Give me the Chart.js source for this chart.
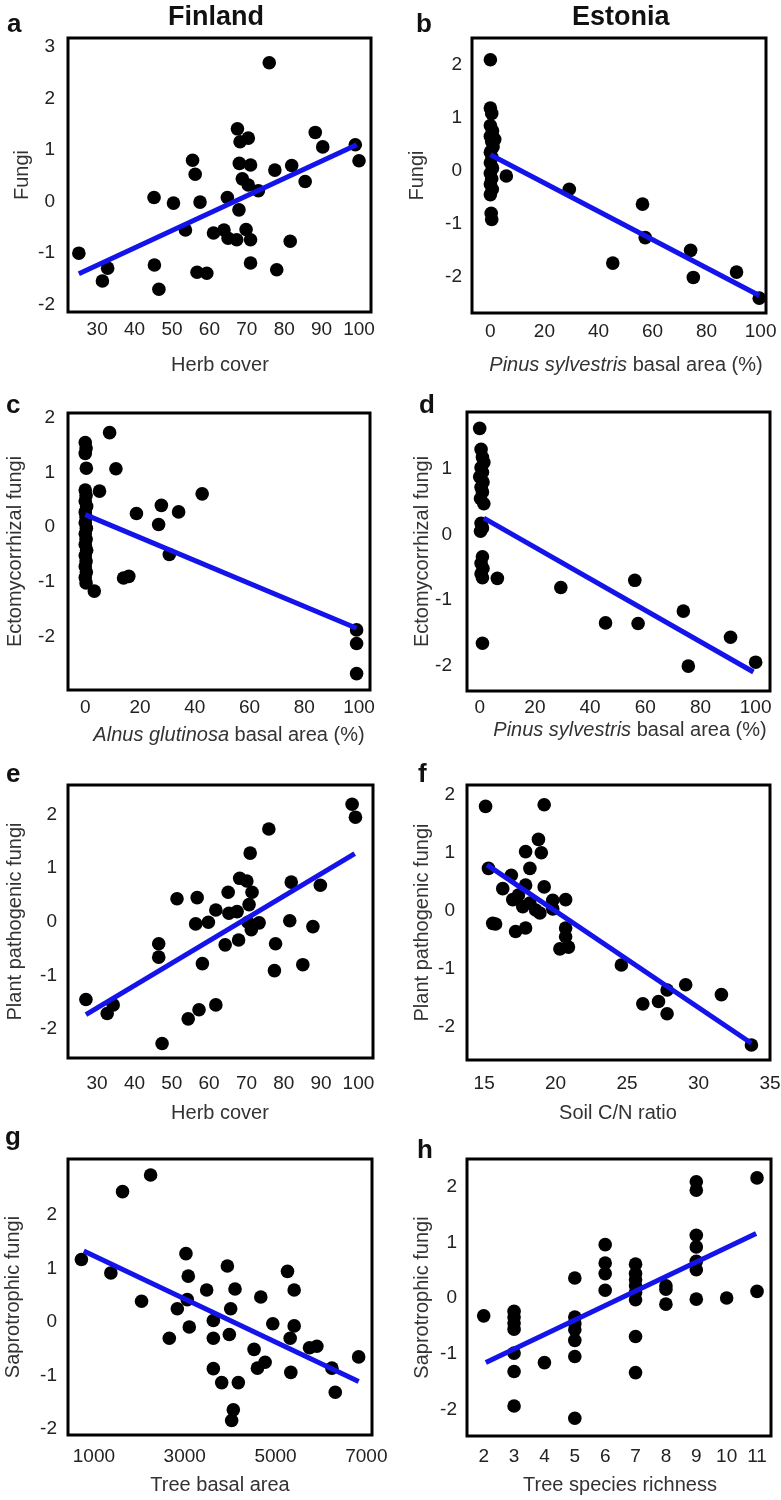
<!DOCTYPE html>
<html>
<head>
<meta charset="utf-8">
<script src="https://cdn.jsdelivr.net/npm/chart.js@4.4.0/dist/chart.umd.min.js"></script>
<style>
body{margin:0;background:#fff;}
#fig{position:relative;width:781px;height:1500px;overflow:hidden;font-family:"Liberation Sans",Arial,sans-serif;}
#fig canvas{position:absolute;}
.txt{position:absolute;font-weight:bold;color:#111;line-height:1;white-space:nowrap;}
</style>
</head>
<body>
<div id="fig"></div>
<script>
// a: Finland, fungi vs herb cover
const aHerbX=[25.1,31.4,32.8,45.2,45.3,46.5,50.4,53.6,55.5,56.2,57.5,56.7,59.3,61.1,63.9,64.8,65.0,67.3,67.9,67.5,68.2,70.4,68.0,71.0,68.8,70.4,73.1,69.8,71.0,71.0,76.0,77.5,78.0,82.0,81.6,85.6,88.3,90.3,99.0,100.0];
const aFungiY=[-1.0,-1.54,-1.29,0.08,-1.23,-1.70,-0.03,-0.55,0.80,0.53,-0.01,-1.37,-1.39,-0.61,-0.55,0.08,-0.71,-0.74,-0.16,1.41,1.16,1.23,0.74,0.71,0.44,0.32,0.21,-0.54,-0.74,-1.19,2.69,0.61,-1.32,0.70,-0.77,0.39,1.34,1.06,1.10,0.79];
const aFitX=[25.1,99.4], aFitY=[-1.40,1.10];
const aTicksX=[30,40,50,60,70,80,90,100], aTicksY=[-2,-1,0,1,2,3];

// b: Estonia, fungi vs pine basal area
const bPineX=[0,0,0.5,0,0.8,0,0.5,1,0,0.6,0,0.8,0,0.5,0,0.7,0,0.3,0.5,1.6,5.9,29.2,56.3,57.3,45.3,74.1,75.1,91.1,99.5];
const bFungiY=[2.09,1.18,1.08,0.85,0.75,0.65,0.55,0.45,0.35,0.25,0.15,0.05,-0.05,-0.15,-0.25,-0.35,-0.45,-0.80,-0.92,0.59,-0.10,-0.35,-0.63,-1.26,-1.74,-1.50,-2.01,-1.91,-2.40];
const bFitX=[0,99.5], bFitY=[0.30,-2.35];
const bTicksX=[0,20,40,60,80,100], bTicksY=[-2,-1,0,1,2];

// c: Finland, ectomycorrhizal fungi vs alder basal area
const cAlderX=[0,0.3,0,0.4,0,0.3,0,0.5,0,0.3,0,0.4,0,0.3,0,0.5,0,0.3,0,0.4,0,0.3,8.9,11.2,5.2,3.3,14.0,15.9,18.7,27.8,26.8,34.1,30.7,42.7,99.1,99.1,99.1];
const cEctoY=[1.55,1.45,1.35,1.08,0.68,0.58,0.48,0.38,0.28,0.18,0.08,-0.02,-0.12,-0.22,-0.32,-0.42,-0.52,-0.62,-0.72,-0.82,-0.92,-1.02,1.73,1.07,0.66,-1.17,-0.93,-0.90,0.25,0.40,0.05,0.28,-0.50,0.61,-1.88,-2.13,-2.68];
const cFitX=[0,99.1], cFitY=[0.23,-1.85];
const cTicksX=[0,20,40,60,80,100], cTicksY=[-2,-1,0,1,2];

// d: Estonia, ectomycorrhizal fungi vs pine basal area
const dPineX=[0,0.5,1,1.5,0.5,1,0,1.2,0.5,1,0.3,1.5,0.5,1,0.3,1,0.5,1.2,0.5,1,1,6.4,29.4,45.6,56.2,57.4,73.8,75.6,90.9,100];
const dEctoY=[1.62,1.30,1.18,1.10,1.02,0.95,0.88,0.80,0.72,0.65,0.55,0.47,0.17,0.10,0.05,-0.34,-0.44,-0.52,-0.60,-0.66,-1.66,-0.67,-0.81,-1.35,-0.70,-1.36,-1.17,-2.01,-1.57,-1.95];
const dFitX=[1.5,99.2], dFitY=[0.25,-2.10];
const dTicksX=[0,20,40,60,80,100], dTicksY=[-2,-1,0,1];

// e: Finland, plant pathogenic fungi vs herb cover
const eHerbX=[27.0,32.7,34.3,46.5,46.5,47.4,51.4,54.4,57.3,56.8,56.4,58.2,59.8,61.8,61.8,64.3,65.1,65.3,67.5,67.9,68.2,70.1,71.0,71.5,70.7,70.4,71.3,73.4,76.0,77.8,77.5,81.6,82.0,85.1,87.8,89.8,98.3,99.2];
const ePathY=[-1.45,-1.71,-1.55,-0.41,-0.66,-2.27,0.43,-1.81,-1.64,0.45,-0.04,-0.78,-0.01,-1.55,0.22,-0.43,0.55,0.16,0.19,-0.34,0.81,0.76,1.28,0.55,0.32,-0.01,-0.15,-0.02,1.73,-0.41,-0.91,0.02,0.74,-0.80,-0.09,0.68,2.19,1.95];
const eFitX=[27.0,99.0], eFitY=[-1.73,1.27];
const eTicksX=[30,40,50,60,70,80,90,100], eTicksY=[-2,-1,0,1,2];

// f: Estonia, plant pathogenic fungi vs soil C/N
const fSoilX=[15.1,15.3,15.6,15.8,16.3,16.9,17.0,17.4,17.2,17.7,17.9,17.9,17.9,18.2,18.2,18.6,18.8,19.0,18.9,19.2,19.2,19.8,19.8,20.7,20.7,20.7,20.3,20.9,24.6,26.1,27.2,27.8,27.8,29.1,31.6,33.7];
const fPathY=[1.80,0.73,-0.22,-0.23,0.38,0.61,0.19,0.27,-0.36,0.07,1.02,0.44,-0.30,0.73,0.13,0.01,1.23,1.00,-0.04,1.83,0.41,0.18,0.03,0.19,-0.30,-0.45,-0.66,-0.63,-0.94,-1.61,-1.57,-1.37,-1.78,-1.28,-1.45,-2.32];
const fFitX=[15.2,33.7], fFitY=[0.79,-2.29];
const fTicksX=[15,20,25,30,35], fTicksY=[-2,-1,0,1,2];

// g: Finland, saprotrophic fungi vs tree basal area
const gBasalX=[724,1373,1630,2049,2248,2660,2836,3027,3078,3056,3100,3483,3630,3630,3630,3814,3939,4012,3982,4107,4070,4033,4180,4527,4601,4675,4770,4939,5263,5322,5336,5410,5410,5748,5910,6241,6315,6830];
const gSaproY=[1.17,0.92,2.44,0.39,2.75,-0.30,0.25,1.28,0.86,0.42,-0.09,0.60,0.03,-0.30,-0.87,-1.13,1.05,0.25,-0.23,0.62,-1.64,-1.84,-1.13,-0.51,-0.86,0.47,-0.75,-0.03,0.95,-0.30,-0.94,0.60,-0.07,-0.48,-0.45,-0.86,-1.31,-0.65];
const gFitX=[776,6830], gFitY=[1.33,-1.11];
const gTicksX=[1000,3000,5000,7000], gTicksY=[-2,-1,0,1,2];

// h: Estonia, saprotrophic fungi vs tree species richness
const hRichX=[2,3,3,3,3,3,3,3,4,5,5,5,5,5,5,5,6,6,6,6,7,7,7,7,7,7,7,7,8,8,8,9,9,9,9,9,9,9,10,11,11];
const hSaproY=[-0.32,-0.24,-0.34,-0.45,-0.56,-0.99,-1.32,-1.94,-1.16,0.36,-0.34,-0.46,-0.57,-0.76,-1.05,-2.16,0.96,0.63,0.44,0.14,0.61,0.44,0.33,0.22,0.10,-0.03,-0.69,-1.34,0.22,0.16,-0.11,2.09,1.94,1.13,0.92,0.66,0.51,-0.02,0.0,2.16,0.12];
const hFitX=[2.07,10.97], hFitY=[-1.16,1.16];
const hTicksX=[2,3,4,5,6,7,8,9,10,11], hTicksY=[-2,-1,0,1,2];

const FONT='"Liberation Sans", Arial, sans-serif';
const fig=document.getElementById('fig');

// box = [left, top, right, bottom] of the framed plot area on the page
const panels=[
  {box:[68,38,371,312], tickY:328, titleY:365, titleX:220, tickR:55, yTitleX:22,
   xs:aHerbX, ys:aFungiY, fx:aFitX, fy:aFitY, xr:[22.2,103.2], yr:[-2.14,3.17], xt:aTicksX, yt:aTicksY,
   xTitle:[['Herb cover',false]], yTitle:'Fungi'},
  {box:[472,38,766,313], tickY:330, titleY:365, titleX:626, tickR:462, yTitleX:417,
   xs:bPineX, ys:bFungiY, fx:bFitX, fy:bFitY, xr:[-6.8,102], yr:[-2.68,2.5], xt:bTicksX, yt:bTicksY,
   xTitle:[['Pinus sylvestris',true],[' basal area (%)',false]], yTitle:'Fungi'},
  {box:[68,413,370,690], tickY:706, titleY:735, titleX:229, tickR:55, yTitleX:15,
   xs:cAlderX, ys:cEctoY, fx:cFitX, fy:cFitY, xr:[-6.3,104], yr:[-2.98,2.09], xt:cTicksX, yt:cTicksY,
   xTitle:[['Alnus glutinosa',true],[' basal area (%)',false]], yTitle:'Ectomycorrhizal fungi'},
  {box:[467,412,770,691], tickY:706, titleY:730, titleX:630, tickR:452, yTitleX:422,
   xs:dPineX, ys:dEctoY, fx:dFitX, fy:dFitY, xr:[-4.6,105.2], yr:[-2.39,1.87], xt:dTicksX, yt:dTicksY,
   xTitle:[['Pinus sylvestris',true],[' basal area (%)',false]], yTitle:'Ectomycorrhizal fungi'},
  {box:[68,785,373,1058], tickY:1082, titleY:1113, titleX:220, tickR:57, yTitleX:15,
   xs:eHerbX, ys:ePathY, fx:eFitX, fy:eFitY, xr:[22.2,103.9], yr:[-2.54,2.55], xt:eTicksX, yt:eTicksY,
   xTitle:[['Herb cover',false]], yTitle:'Plant pathogenic fungi'},
  {box:[467,785,770,1060], tickY:1082, titleY:1113, titleX:618, tickR:455, yTitleX:422,
   xs:fSoilX, ys:fPathY, fx:fFitX, fy:fFitY, xr:[13.8,35], yr:[-2.58,2.17], xt:fTicksX, yt:fTicksY,
   xTitle:[['Soil C/N ratio',false]], yTitle:'Plant pathogenic fungi'},
  {box:[68,1159,372,1435], tickY:1455, titleY:1485, titleX:220, tickR:57, yTitleX:13,
   xs:gBasalX, ys:gSaproY, fx:gFitX, fy:gFitY, xr:[429,7124], yr:[-2.11,3.05], xt:gTicksX, yt:gTicksY,
   xTitle:[['Tree basal area',false]], yTitle:'Saprotrophic fungi'},
  {box:[467,1159,771,1436], tickY:1455, titleY:1485, titleX:620, tickR:457, yTitleX:422,
   xs:hRichX, ys:hSaproY, fx:hFitX, fy:hFitY, xr:[1.45,11.46], yr:[-2.48,2.50], xt:hTicksX, yt:hTicksY,
   xTitle:[['Tree species richness',false]], yTitle:'Saprotrophic fungi'}
];

const framePlugin={
  id:'frame',
  afterDatasetsDraw(chart){
    const a=chart.chartArea, ctx=chart.ctx;
    ctx.save();
    ctx.strokeStyle='#000';
    ctx.lineWidth=3;
    ctx.strokeRect(a.left,a.top,a.right-a.left,a.bottom-a.top);
    ctx.restore();
  }
};

// x titles drawn by hand so that the latin names can be italic
const xTitlePlugin={
  id:'xTitle',
  afterDraw(chart,args,opts){
    const ctx=chart.ctx;
    ctx.save();
    ctx.fillStyle='#333';
    ctx.textBaseline='middle';
    let w=0;
    opts.parts.forEach(p=>{
      ctx.font=(p[1]?'italic ':'')+'20px '+FONT;
      w+=ctx.measureText(p[0]).width;
    });
    let x=opts.x-w/2;
    opts.parts.forEach(p=>{
      ctx.font=(p[1]?'italic ':'')+'20px '+FONT;
      ctx.fillText(p[0],x,opts.y);
      x+=ctx.measureText(p[0]).width;
    });
    ctx.restore();
  }
};

function makePanel(p){
  const left=p.yTitleX-12, top=p.box[1]-10;
  const right=Math.min(781,p.box[2]+30), bottom=p.titleY+14;
  const cv=document.createElement('canvas');
  cv.width=right-left; cv.height=bottom-top;
  cv.style.left=left+'px'; cv.style.top=top+'px';
  cv.style.width=(right-left)+'px'; cv.style.height=(bottom-top)+'px';
  fig.appendChild(cv);

  const noPad=s=>{s.paddingLeft=0;s.paddingRight=0;s.paddingTop=0;s.paddingBottom=0;};
  new Chart(cv,{
    type:'scatter',
    data:{datasets:[
      {data:p.xs.map((x,i)=>({x:x,y:p.ys[i]})), pointRadius:6.8, pointHoverRadius:6.8,
       pointBackgroundColor:'#000', pointBorderWidth:0, clip:false, order:1},
      {type:'line', data:p.fx.map((x,i)=>({x:x,y:p.fy[i]})), borderColor:'#1414ea', borderWidth:5,
       pointRadius:0, fill:false, order:0}
    ]},
    options:{
      responsive:false, animation:false, devicePixelRatio:1,
      layout:{padding:{left:0,top:10,right:right-p.box[2],bottom:0}},
      plugins:{legend:{display:false}, tooltip:{enabled:false},
        xTitle:{parts:p.xTitle, x:p.titleX-left, y:p.titleY-top}},
      scales:{
        x:{type:'linear', min:p.xr[0], max:p.xr[1],
          grid:{display:false,drawTicks:false}, border:{display:false},
          ticks:{padding:p.tickY-p.box[3]-10, color:'#222', font:{family:FONT,size:19}, maxRotation:0, autoSkip:false,
            callback:v=>String(v)},
          afterBuildTicks:s=>{s.ticks=p.xt.map(v=>({value:v}));},
          afterFit:s=>{s.height=bottom-p.box[3]; noPad(s);}
        },
        y:{type:'linear', min:p.yr[0], max:p.yr[1],
          grid:{display:false,drawTicks:false}, border:{display:false},
          ticks:{padding:p.box[0]-p.tickR, color:'#222', font:{family:FONT,size:19}, autoSkip:false,
            callback:v=>String(v)},
          title:{display:true, text:p.yTitle, color:'#333', font:{family:FONT,size:20}, padding:0},
          afterBuildTicks:s=>{s.ticks=p.yt.map(v=>({value:v}));},
          afterFit:s=>{s.width=p.box[0]-left; noPad(s);}
        }
      }
    },
    plugins:[framePlugin,xTitlePlugin]
  });
}

panels.forEach(makePanel);

// headings and panel letters, placed by baseline
function addText(t,x,base,size){
  const d=document.createElement('div');
  d.className='txt';
  d.textContent=t;
  d.style.fontSize=size+'px';
  d.style.left=x+'px';
  d.style.top=(base-0.8465*size)+'px';
  fig.appendChild(d);
}
addText('Finland',168,26,27);
addText('Estonia',572,26,27);
[['a',7,32],['b',416,32],['c',6,413],['d',419,413],['e',6,782],['f',418,782],['g',5,1145],['h',417,1158]]
  .forEach(l=>addText(l[0],l[1],l[2],26));
</script>
</body>
</html>
